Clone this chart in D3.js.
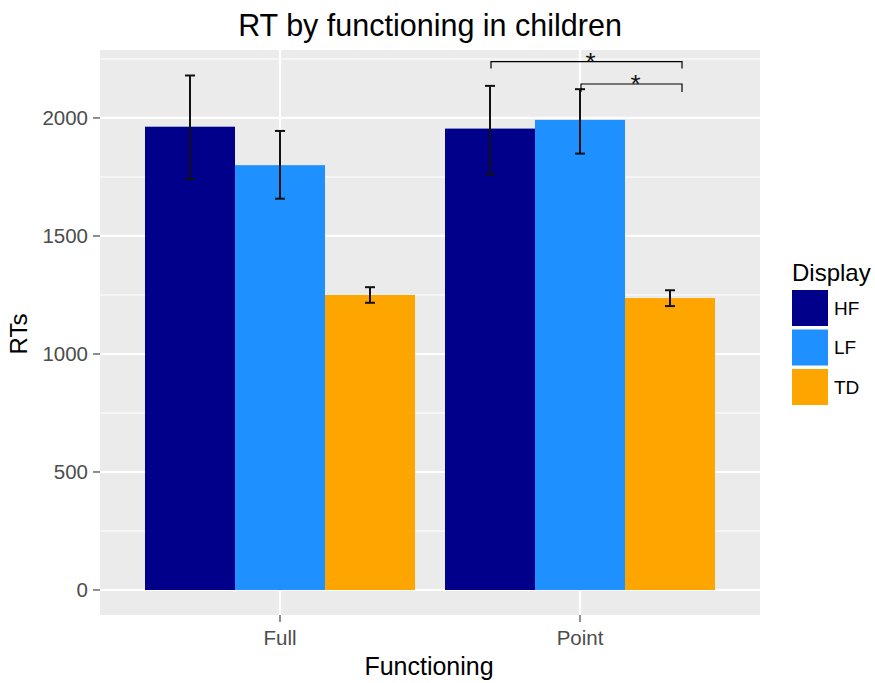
<!DOCTYPE html>
<html><head><meta charset="utf-8">
<script src="https://cdn.jsdelivr.net/npm/d3@7"></script>
<style>body{margin:0;background:#fff;} text{font-family:"Liberation Sans",Arial,sans-serif;}</style>
</head><body><svg id="c" width="875" height="683"></svg>
<script>
const categories = ["Full","Point"];
const groups = ["HF","LF","TD"];
const colors = ["#00008B","#1E90FF","#FFA500"];
const meanFull  = [1963, 1800, 1250];
const lowFull   = [1741, 1658, 1217];
const highFull  = [2180, 1945, 1283];
const meanPoint = [1955, 1992, 1237];
const lowPoint  = [1761, 1849, 1203];
const highPoint = [2136, 2122, 1270];
const yTicks = [0, 500, 1000, 1500, 2000];
const yMinor = [250, 750, 1250, 1750, 2250];
const sig = [
  {from:"HF", to:"TD", cat:"Point", y:2239, drop:2210, label:"*"},
  {from:"LF", to:"TD", cat:"Point", y:2144, drop:2110, label:"*"}
];

const data = [];
categories.forEach((c,i)=>{
  const m = i===0?meanFull:meanPoint, lo=i===0?lowFull:lowPoint, hi=i===0?highFull:highPoint;
  groups.forEach((g,j)=>data.push({cat:c,grp:g,mean:m[j],lo:lo[j],hi:hi[j]}));
});

const svg = d3.select("#c");
const L=100,R=760,T=50,B=615;
const x = d3.scalePoint().domain(categories).range([L,R]).padding(0.6);
const step = x.step();
const bw = step*0.9;
const xg = d3.scaleBand().domain(groups).range([-bw/2,bw/2]).padding(0);
const y = d3.scaleLinear().domain([-106,2288]).range([B,T]);
const col = d3.scaleOrdinal().domain(groups).range(colors);

svg.append("rect").attr("x",L).attr("y",T).attr("width",R-L).attr("height",B-T).attr("fill","#EBEBEB");
const g = svg.append("g");
yMinor.forEach(v=>g.append("line").attr("x1",L).attr("x2",R).attr("y1",y(v)).attr("y2",y(v)).attr("stroke","#fff").attr("stroke-width",1.1));
yTicks.forEach(v=>g.append("line").attr("x1",L).attr("x2",R).attr("y1",y(v)).attr("y2",y(v)).attr("stroke","#fff").attr("stroke-width",2.2));
categories.forEach(c=>g.append("line").attr("x1",x(c)).attr("x2",x(c)).attr("y1",T).attr("y2",B).attr("stroke","#fff").attr("stroke-width",2.2));

svg.append("g").selectAll("rect").data(data).join("rect")
  .attr("x",d=>x(d.cat)+xg(d.grp)).attr("width",xg.bandwidth())
  .attr("y",d=>y(d.mean)).attr("height",d=>y(0)-y(d.mean)).attr("fill",d=>col(d.grp));

const eb = svg.append("g").attr("stroke","#111").attr("stroke-width",2);
data.forEach(d=>{
  const cx = x(d.cat)+xg(d.grp)+xg.bandwidth()/2;
  eb.append("line").attr("x1",cx).attr("x2",cx).attr("y1",y(d.hi)).attr("y2",y(d.lo));
  eb.append("line").attr("x1",cx-5).attr("x2",cx+5).attr("y1",y(d.hi)).attr("y2",y(d.hi));
  eb.append("line").attr("x1",cx-5).attr("x2",cx+5).attr("y1",y(d.lo)).attr("y2",y(d.lo));
});

sig.forEach(s=>{
  const x1 = x(s.cat)+xg(s.from)+xg.bandwidth()/2+1;
  const x2 = x(s.cat)+xg(s.to)+xg.bandwidth()/2+12;
  svg.append("path").attr("d",`M${x1},${y(s.drop)}V${y(s.y)}H${x2}V${y(s.drop)}`)
    .attr("fill","none").attr("stroke","#000").attr("stroke-width",1.2);
  svg.append("text").attr("x",(x1+x2)/2+4).attr("y",y(s.y)+9).attr("text-anchor","middle")
    .attr("font-size",26).attr("fill","#111").text(s.label);
});

// axes
const ya = svg.append("g");
yTicks.forEach(v=>{
  ya.append("line").attr("x1",L-7).attr("x2",L).attr("y1",y(v)).attr("y2",y(v)).attr("stroke","#333").attr("stroke-width",1.1);
  ya.append("text").attr("x",L-12).attr("y",y(v)).attr("dy","0.36em").attr("text-anchor","end").attr("font-size",20.5).attr("fill","#4D4D4D").text(v);
});
categories.forEach(c=>{
  svg.append("line").attr("x1",x(c)).attr("x2",x(c)).attr("y1",B).attr("y2",B+7).attr("stroke","#333").attr("stroke-width",1.1);
  svg.append("text").attr("x",x(c)).attr("y",645).attr("text-anchor","middle").attr("font-size",20.5).attr("fill","#4D4D4D").text(c);
});
svg.append("text").attr("x",429).attr("y",675).attr("text-anchor","middle").attr("font-size",25).attr("fill","#000").text("Functioning");
svg.append("text").attr("transform","translate(27,334) rotate(-90)").attr("text-anchor","middle").attr("font-size",24).attr("fill","#000").text("RTs");
svg.append("text").attr("x",430).attr("y",36).attr("text-anchor","middle").attr("font-size",30.5).attr("fill","#000").text("RT by functioning in children");

// legend
const lg = svg.append("g");
lg.append("text").attr("x",792).attr("y",281).attr("font-size",24).attr("fill","#000").text("Display");
groups.forEach((gr,i)=>{
  lg.append("rect").attr("x",792).attr("y",290+i*39.5).attr("width",36).attr("height",36).attr("fill",col(gr));
  lg.append("text").attr("x",834).attr("y",308+i*39.5).attr("dy","0.36em").attr("font-size",19).attr("fill","#000").text(gr);
});
</script></body></html>
